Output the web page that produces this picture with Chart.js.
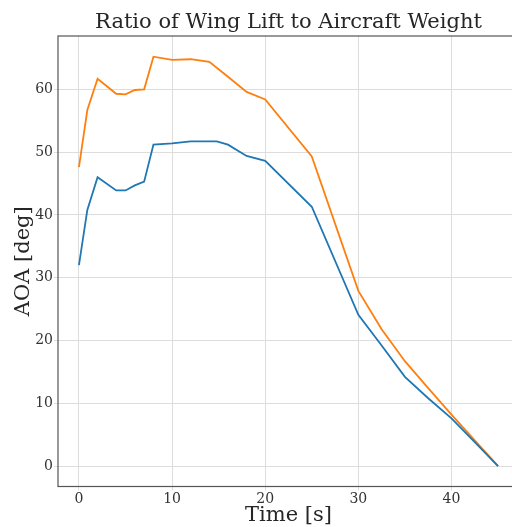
<!DOCTYPE html>
<html>
<head>
<meta charset="utf-8">
<script src="https://cdn.jsdelivr.net/npm/chart.js@4.4.1/dist/chart.umd.min.js"></script>
<style>
  html, body { margin: 0; padding: 0; background: #ffffff; overflow: hidden; }
  canvas { display: block; }
</style>
</head>
<body>
<canvas id="chart" width="520" height="527"></canvas>
<script>
// Time samples [s] and angle-of-attack values [deg] for each curve
const blueTime  = [0, 0.9, 2, 4, 5, 6, 7, 8, 10, 12, 14.8, 16, 18, 20, 25, 30, 32.5, 35, 37.5, 40, 42.5, 45];
const blueAOA   = [32, 40.8, 46, 43.9, 43.9, 44.7, 45.3, 51.2, 51.4, 51.7, 51.7, 51.2, 49.4, 48.6, 41.3, 24.1, 19.2, 14.2, 10.8, 7.6, 3.8, 0];
const orangeTime = [0, 0.9, 2, 4, 5, 6, 7, 8, 10, 12, 14, 16, 18, 20, 25, 30, 32.5, 35, 37.5, 40, 42.5, 45];
const orangeAOA  = [47.6, 56.7, 61.7, 59.3, 59.2, 59.9, 60, 65.2, 64.7, 64.8, 64.4, 62, 59.6, 58.4, 49.3, 27.9, 21.8, 16.7, 12.4, 8.2, 4.1, 0];
const xTicks = [0, 10, 20, 30, 40];
const yTicks = [0, 10, 20, 30, 40, 50, 60];

const titleText = 'Ratio of Wing Lift to Aircraft Weight';
const SERIF = '"DejaVu Serif", "Liberation Serif", serif';

const toPoints = (xs, ys) => xs.map((x, i) => ({ x: x, y: ys[i] }));

// Title centred over the plot area, plus the frame around it
const framePlugin = {
  id: 'frame',
  afterDraw(chart) {
    const { ctx, chartArea: a } = chart;
    ctx.save();
    ctx.strokeStyle = '#555555';
    ctx.lineWidth = 1.2;
    ctx.strokeRect(a.left, a.top, a.right - a.left, a.bottom - a.top);
    ctx.fillStyle = '#262626';
    ctx.font = '21px ' + SERIF;
    ctx.textAlign = 'center';
    ctx.textBaseline = 'alphabetic';
    ctx.fillText(titleText, (a.left + a.right) / 2, 28);
    ctx.restore();
  }
};

new Chart(document.getElementById('chart'), {
  type: 'line',
  data: {
    datasets: [
      {
        data: toPoints(blueTime, blueAOA),
        borderColor: '#1f77b4',
        borderWidth: 1.8,
        pointRadius: 0,
        tension: 0,
        fill: false
      },
      {
        data: toPoints(orangeTime, orangeAOA),
        borderColor: '#ff7f0e',
        borderWidth: 1.8,
        pointRadius: 0,
        tension: 0,
        fill: false
      }
    ]
  },
  options: {
    responsive: false,
    animation: false,
    layout: { padding: { top: 36, right: 1, left: 0, bottom: 0 } },
    plugins: {
      legend: { display: false },
      title: { display: false },
      tooltip: { enabled: false }
    },
    scales: {
      x: {
        type: 'linear',
        min: -2.25,
        max: 47.25,
        afterBuildTicks(scale) { scale.ticks = xTicks.map(v => ({ value: v })); },
        afterFit(scale) { scale.height = 40.5; },
        grid: { color: '#dddddd', lineWidth: 1, tickLength: 4, drawTicks: true },
        border: { display: false },
        ticks: { color: '#333333', font: { family: SERIF, size: 14 }, padding: 0, maxRotation: 0 },
        title: {
          display: true,
          text: 'Time [s]',
          color: '#262626',
          font: { family: SERIF, size: 21, lineHeight: 1 },
          padding: { top: 0, bottom: 1 }
        }
      },
      y: {
        type: 'linear',
        min: -3.26,
        max: 68.5,
        afterBuildTicks(scale) { scale.ticks = yTicks.map(v => ({ value: v })); },
        afterFit(scale) { scale.width = 58; },
        grid: { color: '#dddddd', lineWidth: 1, tickLength: 4, drawTicks: true },
        border: { display: false },
        ticks: { color: '#333333', font: { family: SERIF, size: 14 }, padding: 1 },
        title: {
          display: true,
          text: 'AOA [deg]',
          color: '#262626',
          font: { family: SERIF, size: 21, lineHeight: 1 },
          padding: { top: 13, bottom: 0 }
        }
      }
    }
  },
  plugins: [framePlugin]
});
</script>
</body>
</html>
